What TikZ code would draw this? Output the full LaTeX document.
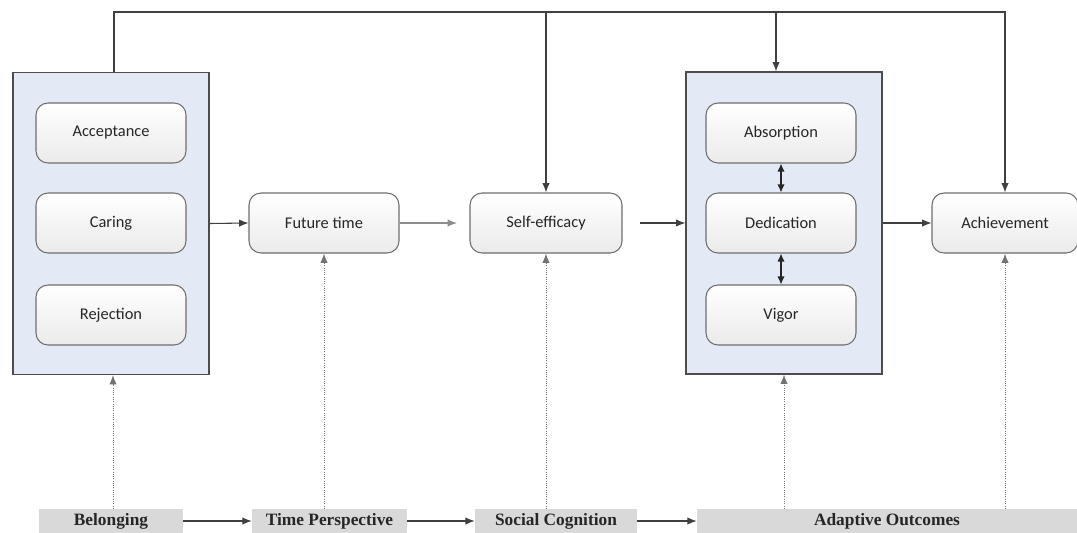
\documentclass[tikz,border=0pt]{standalone}
\usepackage{fontspec}
\setmainfont{Liberation Serif}
\newfontfamily\boxfont{Carlito}
\usetikzlibrary{arrows.meta}
\definecolor{boxblue}{HTML}{E4EAF5}
\definecolor{edgegray}{HTML}{6E6E6E}
\definecolor{labgray}{HTML}{D9D9D9}
\tikzset{
  innerbox/.style={draw=edgegray, line width=0.8pt, rounded corners=9pt, top color=white, bottom color=black!8,
    minimum width=112.5pt, minimum height=45pt, font=\boxfont\fontsize{12.3}{14}\selectfont, text=black!85},
  bigbox/.style={draw=black!70, line width=0.9pt, fill=boxblue, minimum width=147pt, minimum height=226.5pt},
  labbox/.style={fill=labgray, minimum height=18pt, inner sep=0pt, font=\bfseries\fontsize{13}{15}\selectfont, text=black!85},
  arr/.style={draw=black!75, line width=0.8pt, -{Latex[length=7pt,width=5.5pt]}},
  grayarr/.style={draw=black!45, line width=0.9pt, -{Latex[length=7pt,width=5.5pt]}},
  dblarr/.style={draw=black!85, line width=0.9pt, {Latex[length=6pt,width=5.5pt]}-{Latex[length=6pt,width=5.5pt]}},
  dotarr/.style={draw=black!55, line width=0.7pt, densely dotted, -{Latex[length=7pt,width=5.5pt]}},
}
\begin{document}
\begin{tikzpicture}[x=0.75pt, y=-0.75pt]
\useasboundingbox (0,0) rectangle (1077,532);
% big boxes
\node[bigbox] (leftbox) at (111,223.5) {};
\node[bigbox] (rightbox) at (784,223) {};
% inner boxes
\node[innerbox] (acc) at (111,133) {Acceptance};
\node[innerbox] (car) at (111,223) {Caring};
\node[innerbox] (rej) at (111,315) {Rejection};
\node[innerbox] (abs) at (781,133) {Absorption};
\node[innerbox] (ded) at (781,223) {Dedication};
\node[innerbox] (vig) at (781,315) {Vigor};
\node[innerbox] (fut) at (324,223) {Future time};
\node[innerbox, minimum width=114pt] (self) at (546,223) {Self-efficacy};
\node[innerbox, minimum width=109.5pt] (ach) at (1005,223) {Achievement};
% bottom labels
\node[labbox, minimum width=108pt] (bel) at (111,521) {Belonging};
\node[labbox, minimum width=116.25pt] (tp) at (329.5,521) {Time Perspective};
\node[labbox, minimum width=121.5pt] (sc) at (556,521) {Social Cognition};
\node[labbox, minimum width=285pt] (ao) at (887,521) {Adaptive Outcomes};
% top feedback line
\coordinate (tr) at (1005,12);
\draw[arr] ([xshift=2.25pt]leftbox.north) |- (tr) -- (ach.north);
\draw[arr] (self.north |- tr) -- (self.north);
\draw[arr] ([xshift=-6pt]rightbox.north |- tr) -- ([xshift=-6pt]rightbox.north);
% horizontal flow
\draw[arr] (leftbox.east) -- (fut.west);
\coordinate (fs) at (457,223);
\draw[grayarr] (fut.east) -- (fs);
\coordinate (sr) at (640,223);
\draw[arr] (sr) -- (rightbox.west);
\draw[arr] (rightbox.east) -- (ach.west);
% internal double arrows
\draw[dblarr] (abs.south) -- (ded.north);
\draw[dblarr] (ded.south) -- (vig.north);
% bottom label arrows
\draw[arr] (bel.east) -- (tp.west);
\draw[arr] (tp.east) -- (sc.west);
\draw[arr] (sc.east) -- (ao.west);
% dotted upward arrows
\draw[dotarr] (bel.north -| leftbox.south) ++(1.5pt,0) -- ([xshift=1.5pt]leftbox.south);
\draw[dotarr] (fut.south |- bel.north) -- (fut.south);
\draw[dotarr] (self.south |- bel.north) -- (self.south);
\draw[dotarr] (rightbox.south |- ao.north) -- (rightbox.south);
\draw[dotarr] (ach.south |- ao.north) -- (ach.south);
\end{tikzpicture}
\end{document}
